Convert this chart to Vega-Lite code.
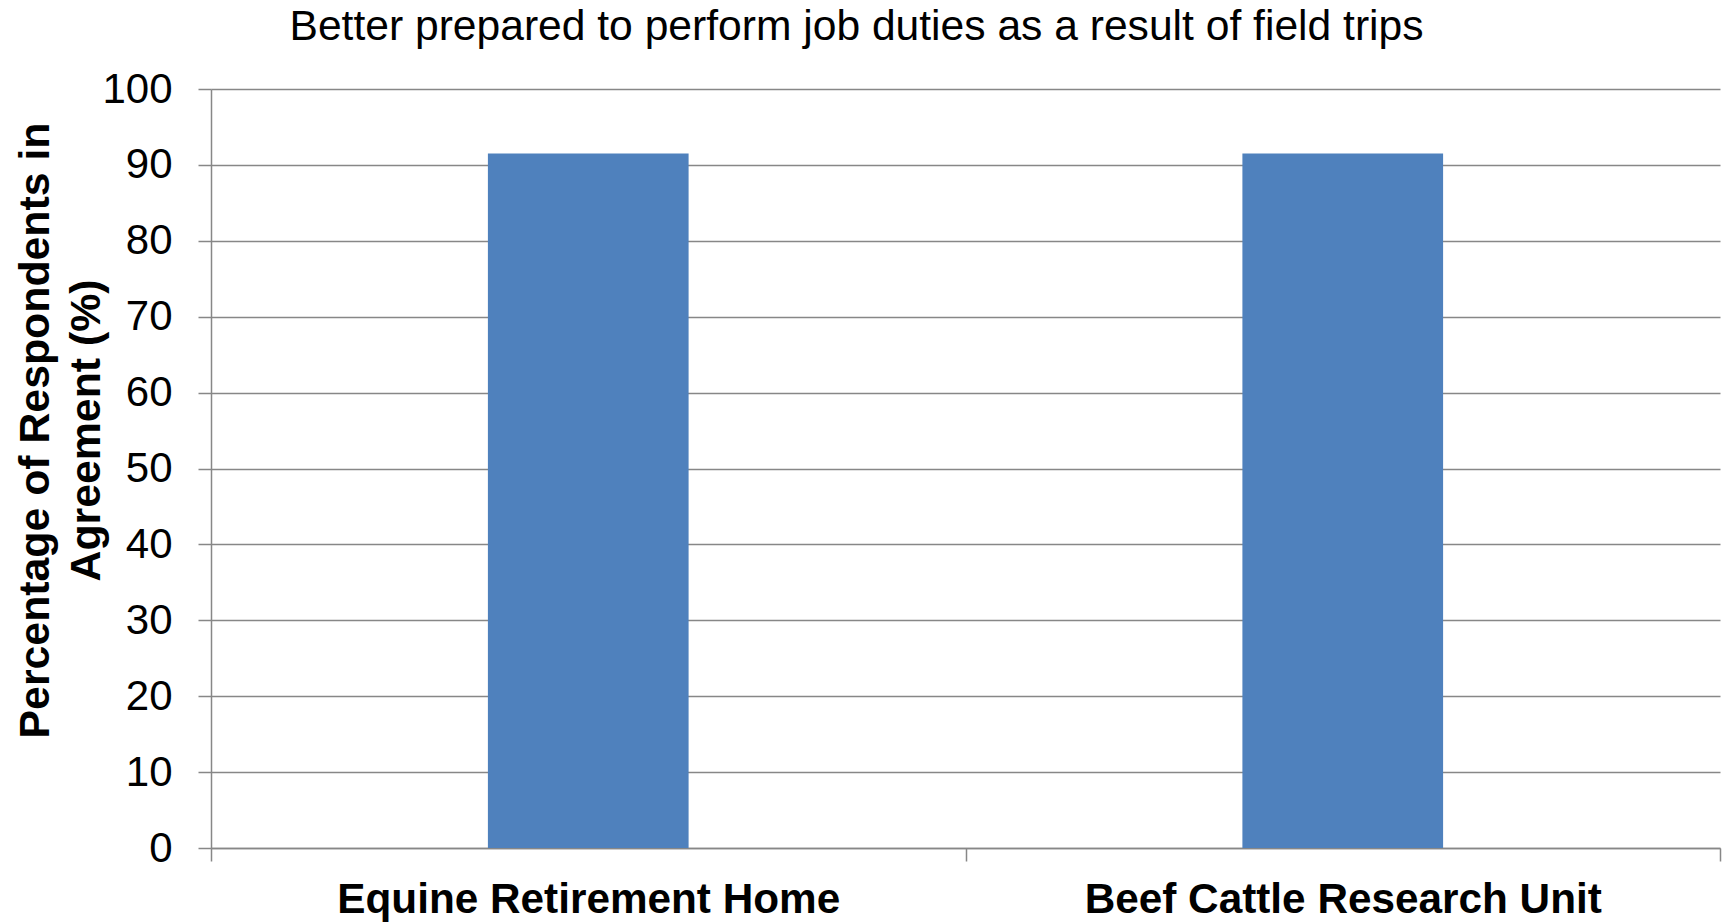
{
  "$schema": "https://vega.github.io/schema/vega-lite/v6.json",
  "autosize": {"type": "none"},
  "padding": {"left": 211, "top": 89, "right": 9, "bottom": 74},
  "width": 1509,
  "height": 759,
  "background": "white",
  "config": {
    "view": {"stroke": null},
    "font": "Liberation Sans"
  },
  "title": {
    "text": "Better prepared to perform job duties as a result of field trips",
    "font": "Liberation Sans",
    "fontSize": 42.6,
    "fontWeight": "normal",
    "color": "black",
    "anchor": "middle",
    "frame": "group",
    "baseline": "alphabetic",
    "offset": -15,
    "dx": -109,
    "limit": 0
  },
  "data": {
    "values": [
      {"site": "Equine Retirement Home", "pct": 91.5},
      {"site": "Beef Cattle Research Unit", "pct": 91.5}
    ]
  },
  "mark": {"type": "bar", "color": "#4F81BD", "width": {"band": 0.266}},
  "encoding": {
    "x": {
      "field": "site",
      "type": "nominal",
      "sort": null,
      "scale": {"paddingInner": 0, "paddingOuter": 0},
      "axis": {
        "title": null,
        "labelAngle": 0,
        "labelFont": "Liberation Sans",
        "labelFontSize": 42.3,
        "labelFontWeight": "bold",
        "labelColor": "black",
        "labelBaseline": "alphabetic",
        "labelPadding": 51,
        "labelLimit": 0,
        "tickBand": "extent",
        "tickSize": 13,
        "tickColor": "#878787",
        "tickWidth": 1.5,
        "domainColor": "#878787",
        "domainWidth": 1.5,
        "grid": false
      }
    },
    "y": {
      "field": "pct",
      "type": "quantitative",
      "scale": {"domain": [0, 100], "nice": false},
      "axis": {
        "values": [0, 10, 20, 30, 40, 50, 60, 70, 80, 90, 100],
        "title": ["Percentage of Respondents in", "Agreement (%)"],
        "titleFont": "Liberation Sans",
        "titleFontSize": 42.8,
        "titleFontWeight": "bold",
        "titleColor": "black",
        "titleLineHeight": 51,
        "titleBaseline": "alphabetic",
        "titleAlign": "center",
        "titleAngle": -90,
        "titleX": -163,
        "titleY": 341,
        "titleLimit": 0,
        "labelFont": "Liberation Sans",
        "labelFontSize": 42,
        "labelColor": "black",
        "labelPadding": 26,
        "tickSize": 13,
        "tickColor": "#878787",
        "tickWidth": 1.5,
        "domainColor": "#878787",
        "domainWidth": 1.5,
        "grid": true,
        "gridColor": "#878787",
        "gridWidth": 1.5
      }
    }
  }
}
